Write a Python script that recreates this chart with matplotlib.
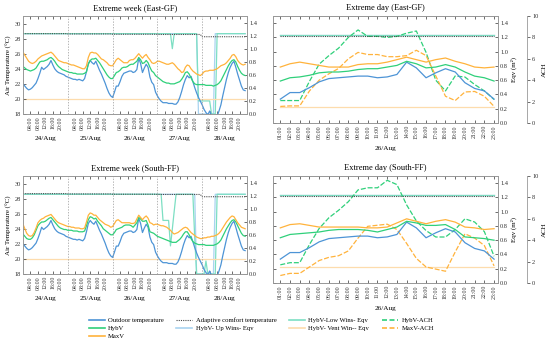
import numpy as np
import matplotlib
matplotlib.use("Agg")
import matplotlib.pyplot as plt
import matplotlib.transforms as mtrans

plt.rcParams['font.family'] = ['Liberation Serif', 'DejaVu Serif']

# ---------------- data ----------------
days = ['24/Aug', '25/Aug', '26/Aug', '27/Aug', '28/Aug']
week_ticks = ['04:00', '08:00', '12:00', '16:00', '20:00']
day_ticks = ['%02d:00' % h for h in range(1, 24)]

# hourly outdoor temperature, 24/Aug 00:00 .. 28/Aug 23:00
outdoor = [22.0, 21.7, 21.4, 21.2, 21.3, 21.5, 21.8, 22.1, 22.7, 23.4, 24.2, 23.9, 24.1, 24.3, 24.6, 25.1, 24.5, 24.0, 23.7, 23.5, 23.4, 23.3, 23.2, 23.0,
           22.9, 22.8, 22.7, 22.6, 22.6, 22.5, 22.6, 22.5, 22.4, 22.7, 23.6, 24.7, 25.1, 24.8, 24.6, 25.0, 24.4, 23.8, 23.3, 22.7, 22.1, 21.4, 20.8, 20.4,
           20.2, 20.9, 21.7, 21.7, 22.3, 23.0, 23.4, 23.5, 23.6, 23.7, 23.7, 23.5, 23.6, 23.9, 25.4, 24.7, 23.5, 24.1, 24.6, 24.2, 22.9, 22.2, 21.9, 20.9,
           20.4, 20.0, 19.7, 19.5, 19.5, 19.5, 19.4, 19.4, 19.4, 19.3, 19.3, 19.6, 20.2, 21.0, 21.9, 22.6, 23.1, 22.8, 23.0, 22.3, 21.5, 20.8, 20.2, 19.7,
           19.2, 18.6, 18.2, 17.9, 18.4, 17.8, 17.5, 17.4, 17.7, 18.4, 19.2, 20.4, 21.5, 22.6, 23.5, 24.2, 24.7, 25.0, 24.2, 23.3, 22.5, 21.7, 21.2, 21.1]

comfort_east = [28.66, 28.62, 28.58, 28.55, 28.25]   # daily value
comfort_south = [28.66, 28.62, 28.58, 28.55, 28.25]

hybv_east = [24.3, 24.1, 23.9, 23.8, 23.7, 23.8, 23.9, 24.1, 24.5, 24.9, 25.0, 25.0, 25.1, 25.2, 25.4, 25.5, 25.3, 25.0, 24.6, 24.3, 24.1, 23.9, 23.8, 23.7,
             23.6, 23.5, 23.5, 23.4, 23.4, 23.3, 23.3, 23.3, 23.3, 23.4, 23.6, 24.6, 25.1, 25.3, 25.3, 25.4, 25.1, 24.8, 24.4, 24.0, 23.6, 23.2, 22.9, 22.7,
             22.7, 23.1, 23.5, 23.6, 23.8, 24.1, 24.2, 24.2, 24.3, 24.5, 24.6, 24.6, 24.8, 25.0, 25.5, 25.2, 24.7, 24.8, 25.1, 24.8, 24.2, 23.7, 23.5, 23.1,
             22.9, 22.7, 22.5, 22.3, 22.2, 22.1, 22.1, 22.0, 22.0, 22.0, 22.1, 22.2, 22.3, 22.6, 23.0, 23.5, 23.6, 23.3, 22.8, 22.3, 22.0, 21.9, 21.9, 21.9,
             21.9, 21.9, 21.8, 21.8, 21.8, 21.8, 21.7, 21.8, 21.9, 22.1, 22.4, 22.9, 23.4, 23.9, 24.4, 24.8, 25.1, 25.2, 24.9, 24.3, 23.8, 23.4, 23.2, 23.1]

maxv_east = [26.2, 25.8, 25.4, 25.0, 24.8, 24.7, 24.8, 25.0, 25.3, 25.5, 25.7, 25.8, 25.9, 26.0, 26.1, 26.2, 26.0, 25.7, 25.4, 25.1, 25.0, 24.9, 24.8, 24.8,
             24.7, 24.6, 24.5, 24.5, 24.4, 24.3, 24.2, 24.1, 24.0, 24.0, 24.4, 25.5, 26.1, 26.2, 26.1, 26.1, 25.9, 25.6, 25.3, 25.2, 25.0, 24.8, 24.5, 24.4,
             24.4, 24.8, 25.2, 25.4, 25.2, 25.0, 24.8, 24.8, 24.8, 25.1, 25.2, 25.2, 25.4, 25.7, 26.0, 25.7, 25.4, 25.7, 25.9, 25.5, 25.2, 24.8, 24.7, 24.8,
             25.0, 25.0, 24.9, 24.8, 24.7, 24.6, 24.6, 24.7, 24.8, 24.6, 24.3, 24.0, 23.8, 23.5, 23.6, 24.2, 24.5, 24.4, 24.0, 23.7, 23.5, 23.3, 23.2, 23.1,
             23.3, 23.6, 23.7, 23.7, 23.8, 23.8, 23.8, 23.9, 24.0, 24.2, 24.4, 24.5, 24.6, 24.8, 25.1, 25.4, 25.8, 25.9, 25.6, 25.1, 24.8, 24.6, 24.5, 24.6]

hybv_south = [23.3, 23.0, 22.7, 22.6, 22.6, 22.8, 23.2, 23.8, 24.4, 24.7, 24.9, 24.9, 25.0, 25.2, 25.4, 25.5, 25.2, 24.9, 24.6, 24.3, 24.1, 24.0, 23.9, 23.9,
              23.8, 23.8, 23.8, 23.7, 23.7, 23.7, 23.6, 23.6, 23.6, 23.7, 24.4, 25.2, 25.6, 25.5, 25.3, 25.4, 25.0, 24.7, 24.4, 24.0, 23.8, 23.6, 23.4, 23.2,
              23.2, 23.5, 23.9, 24.0, 24.1, 24.2, 24.4, 24.5, 24.5, 24.5, 24.4, 24.2, 24.5, 24.8, 25.5, 25.3, 25.0, 25.0, 25.1, 24.5, 23.6, 23.5, 23.4, 23.2,
              23.0, 22.9, 22.8, 22.7, 22.6, 22.5, 22.4, 22.3, 22.2, 22.2, 22.2, 22.4, 22.6, 22.9, 23.3, 23.6, 23.6, 23.2, 22.7, 22.3, 22.1, 22.0, 21.9, 21.9,
              21.9, 21.9, 21.8, 21.8, 21.8, 21.8, 21.8, 21.9, 22.0, 22.2, 22.5, 23.0, 23.5, 24.0, 24.4, 24.8, 25.1, 25.2, 24.9, 24.4, 23.9, 23.4, 23.1, 23.0]

maxv_south = [24.6, 24.0, 23.4, 23.1, 23.0, 23.1, 23.5, 24.1, 24.8, 25.1, 25.3, 25.4, 25.6, 25.7, 25.8, 25.9, 25.6, 25.3, 25.0, 24.8, 24.7, 24.6, 24.5, 24.4,
              24.3, 24.3, 24.2, 24.2, 24.1, 24.1, 24.1, 24.0, 24.0, 24.1, 24.9, 25.8, 26.1, 26.0, 25.8, 25.8, 25.5, 25.2, 25.0, 24.8, 24.6, 24.5, 24.4, 24.2,
              24.3, 24.7, 25.1, 25.2, 25.0, 24.8, 24.8, 24.8, 24.8, 24.8, 24.7, 24.7, 24.8, 25.3, 25.8, 25.5, 25.2, 25.5, 25.7, 25.4, 24.8, 24.7, 24.5, 24.6,
              24.6, 24.5, 24.4, 24.4, 24.3, 24.2, 24.0, 23.8, 23.5, 23.3, 23.4, 23.5, 23.7, 23.9, 24.1, 24.2, 24.1, 23.8, 23.5, 23.3, 23.1, 22.9, 22.8, 22.7,
              22.7, 22.8, 22.8, 22.9, 22.9, 23.0, 23.0, 23.1, 23.2, 23.4, 23.7, 24.1, 24.5, 24.9, 25.2, 25.5, 25.7, 25.6, 25.2, 24.8, 24.5, 24.2, 24.1, 24.0]

# equivalent opening areas (m2), hourly over the week
eqv_open = 1.23
vent_eqv = 0.23
low_east_27 = [1.23, 1.23, 1.23, 1.23, 1.23, 1.23, 1.23, 1.23, 1.0, 1.23, 1.23, 1.23, 1.23, 1.23, 1.23, 1.23, 1.23, 1.23, 1.23, 1.23, 1.23, 1.23, 0.2, 0.2]
low_east_28 = [0.2, 0.2, 0.2, 0.2, 0.2, 0.0, 0.0, 0.0, 1.23, 1.23, 1.23, 1.23, 1.23, 1.23, 1.23, 1.23, 1.23, 1.23, 1.23, 1.23, 1.23, 1.23, 1.23, 1.23]
up_east_27 = [1.23] * 22 + [0.0, 0.0]
up_east_28 = [0.0] * 7 + [1.23] * 17
low_south_27 = [1.22, 1.22, 1.22, 0.82, 0.82, 0.82, 0.82, 0.43, 0.69, 0.96, 1.22, 1.22, 1.22, 1.22, 1.22, 1.22, 1.22, 1.22, 1.22, 1.22, 0.55, 0.0, 0.0, 0.0]
low_south_28 = [0.0, 0.0, 0.2, 0.0, 0.0, 0.0, 0.0, 0.0, 1.22, 1.22, 1.22, 1.22, 1.22, 1.22, 1.22, 1.22, 1.22, 1.22, 1.22, 1.22, 1.22, 1.22, 1.22, 1.22]
up_south_27 = [1.22] * 21 + [0.0, 0.0, 0.0]
up_south_28 = [0.0] * 7 + [1.22] * 17

# air changes per hour on 26/Aug, 01:00 .. 23:00
hybv_ach_east = [2.1, 2.1, 2.1, 3.9, 5.5, 6.3, 7.0, 8.0, 8.7, 8.1, 8.1, 8.0, 8.1, 8.4, 8.6, 6.6, 4.0, 3.0, 4.4, 4.3, 3.6, 3.0, 2.2]
maxv_ach_east = [1.55, 1.6, 1.6, 3.0, 4.0, 4.6, 5.1, 6.0, 6.6, 6.4, 6.4, 6.2, 6.2, 6.3, 6.8, 6.3, 4.4, 2.5, 2.1, 2.9, 2.95, 2.5, 1.55]
hybv_ach_south = [1.7, 1.9, 1.9, 3.6, 5.1, 6.1, 6.8, 7.6, 8.7, 8.9, 8.9, 9.6, 9.2, 7.3, 5.8, 4.9, 4.3, 4.3, 5.0, 6.0, 5.7, 4.8, 2.5]
maxv_ach_south = [0.7, 0.9, 0.9, 1.5, 2.1, 2.4, 2.55, 3.0, 4.2, 5.3, 5.4, 5.5, 5.0, 3.7, 2.3, 1.5, 1.3, 1.1, 2.9, 4.6, 4.2, 3.5, 1.6]

# ---------------- styles ----------------
C_OUT = '#4d94d6'
C_HYB = '#2fd07a'
C_MAX = '#ffb33c'
C_CMF = '#4a4a4a'
C_UP = '#a9d3f0'
C_LOW = '#7ddfc3'
C_VENT = '#fddcad'
GRID = '#999999'
LW = 0.9


def style(ax):
    for s in ax.spines.values():
        s.set_color(GRID)
        s.set_linewidth(0.6)
    ax.tick_params(direction='in', length=2, width=0.5, labelsize=4.6, colors='#333333', pad=1.5)


def draw_week(ax, title, hybv, maxv, comfort, low, up):
    x = np.arange(len(outdoor))
    ax2 = ax.twinx()
    ax.set_zorder(ax2.get_zorder() + 1)
    ax.patch.set_visible(False)
    n = len(outdoor)
    ax2.plot(x, up, color=C_UP, lw=LW)
    ax2.plot(x, low, color=C_LOW, lw=LW)
    ax2.plot(x, [vent_eqv] * n, color=C_VENT, lw=LW)
    ax.plot(x, outdoor, color=C_OUT, lw=LW)
    ax.plot(x, hybv, color=C_HYB, lw=LW)
    ax.plot(x, maxv, color=C_MAX, lw=LW)
    ax.plot(x, np.repeat(comfort, 24), color=C_CMF, lw=0.8, ls=(0, (1, 1)))
    for d in range(1, 5):
        ax.axvline(d * 24, color=GRID, lw=0.5, ls=(0, (2, 2)))
    ax.set_xlim(0, n)
    ax.set_ylim(18, 31)
    ax2.set_ylim(0, 1.5)
    ax.set_yticks(range(18, 31, 2))
    ax2.set_yticks(np.arange(0, 1.41, 0.2))
    ax2.set_yticklabels(['%.1f' % v for v in np.arange(0, 1.41, 0.2)])
    pos = [d * 24 + h for d in range(5) for h in (4, 8, 12, 16, 20)]
    style(ax)
    style(ax2)
    ax.set_xticks(pos)
    ax.set_xticklabels(week_ticks * 5, rotation=90, fontsize=4.2)
    ax.xaxis.set_tick_params(top=True)
    ax.set_ylabel('Air Temperature (\u00b0C)', fontsize=5, labelpad=2)
    ax.set_title(title, fontsize=6, pad=4)
    tr = mtrans.blended_transform_factory(ax.transData, ax.transAxes)
    for d, lab in enumerate(days):
        ax.text(d * 24 + 12, -0.25, lab, transform=tr, ha='center', va='center', fontsize=5.2)


def draw_day(ax, title, hybv, maxv, comfort, ach_h, ach_m):
    x = np.arange(1, 24)
    sl = slice(49, 72)
    ax2 = ax.twinx()
    ax3 = ax.twinx()
    ax3.spines['right'].set_position(('outward', 21))
    ax.set_zorder(ax3.get_zorder() + 1)
    ax.patch.set_visible(False)
    n = len(x)
    ax2.plot(x, [eqv_open] * n, color=C_UP, lw=LW)
    ax2.plot(x, [eqv_open] * n, color=C_LOW, lw=LW)
    ax2.plot(x, [vent_eqv - 0.01] * n, color=C_VENT, lw=LW)
    ax3.plot(x, ach_h, color=C_HYB, lw=LW, ls=(0, (4, 1.5)))
    ax3.plot(x, ach_m, color=C_MAX, lw=LW, ls=(0, (4, 1.5)))
    ax.plot(x, outdoor[sl], color=C_OUT, lw=LW)
    ax.plot(x, hybv[sl], color=C_HYB, lw=LW)
    ax.plot(x, maxv[sl], color=C_MAX, lw=LW)
    ax.plot(x, [comfort[2]] * n, color=C_CMF, lw=0.8, ls=(0, (1, 1)))
    ax.set_xlim(0.25, 23.4)
    ax.set_ylim(18, 31)
    ax2.set_ylim(0, 1.5)
    ax3.set_ylim(0, 10)
    ax.set_yticks(18 + np.arange(0, 1.41, 0.2) * 13 / 1.5)
    ax.set_yticklabels([])
    ax2.set_yticks(np.arange(0, 1.41, 0.2))
    ax2.set_yticklabels(['%.1f' % v for v in np.arange(0, 1.41, 0.2)])
    ax3.set_yticks(range(0, 11, 2))
    for a in (ax, ax2, ax3):
        style(a)
    ax.set_xticks(x)
    ax.set_xticklabels(day_ticks, rotation=90, fontsize=4.2)
    ax.xaxis.set_tick_params(top=True)
    ax3.tick_params(direction='out')
    ax2.set_ylabel('Eqv (m\u00b2)', fontsize=5, labelpad=2)
    ax3.set_ylabel('ACH', fontsize=5, labelpad=3)
    ax.set_title(title, fontsize=6, pad=4)
    ax.text(0.5, -0.235, '26/Aug', transform=ax.transAxes, ha='center', va='center', fontsize=5.2)


fig = plt.figure(figsize=(5.5, 3.44), dpi=100)
ax_tl = fig.add_axes([0.0418, 0.6686, 0.4073, 0.2849])
ax_tr = fig.add_axes([0.4964, 0.6424, 0.4090, 0.3110])
ax_bl = fig.add_axes([0.0418, 0.2035, 0.4073, 0.2849])
ax_br = fig.add_axes([0.4964, 0.1773, 0.4090, 0.3110])

low_east = [eqv_open] * 72 + low_east_27 + low_east_28
up_east = [eqv_open] * 72 + up_east_27 + up_east_28
low_south = [1.22] * 72 + low_south_27 + low_south_28
up_south = [1.22] * 72 + up_south_27 + up_south_28

draw_week(ax_tl, 'Extreme week (East-GF)', hybv_east, maxv_east, comfort_east, low_east, up_east)
draw_day(ax_tr, 'Extreme day (East-GF)', hybv_east, maxv_east, comfort_east, hybv_ach_east, maxv_ach_east)
draw_week(ax_bl, 'Extreme week (South-FF)', hybv_south, maxv_south, comfort_south, low_south, up_south)
draw_day(ax_br, 'Extreme day (South-FF)', hybv_south, maxv_south, comfort_south, hybv_ach_south, maxv_ach_south)

# legend
h = [
    plt.Line2D([], [], color=C_OUT, lw=1.2),
    plt.Line2D([], [], color=C_HYB, lw=1.2),
    plt.Line2D([], [], color=C_MAX, lw=1.2),
    plt.Line2D([], [], color=C_CMF, lw=0.8, ls=(0, (1, 1))),
    plt.Line2D([], [], color=C_UP, lw=1.2),
    plt.Line2D([], [], color=C_LOW, lw=1.2),
    plt.Line2D([], [], color=C_VENT, lw=1.2),
    plt.Line2D([], [], color=C_HYB, lw=1.2, ls=(0, (3, 1.5))),
    plt.Line2D([], [], color=C_MAX, lw=1.2, ls=(0, (3, 1.5))),
]
labels = ['Outdoor temperature', 'HybV', 'MaxV', 'Adaptive comfort temperature',
          'HybV- Up Wins- Eqv', 'HybV-Low Wins- Eqv', 'HybV- Vent Win-- Eqv',
          'HybV-ACH', 'MaxV-ACH']
fig.legend(h, labels, loc='center', bbox_to_anchor=(0.475, 0.045), ncol=4, frameon=False,
           fontsize=4.8, handlelength=2.4, columnspacing=1.9, labelspacing=0.35, handletextpad=0.5)

fig.savefig('out.png', dpi=100)
